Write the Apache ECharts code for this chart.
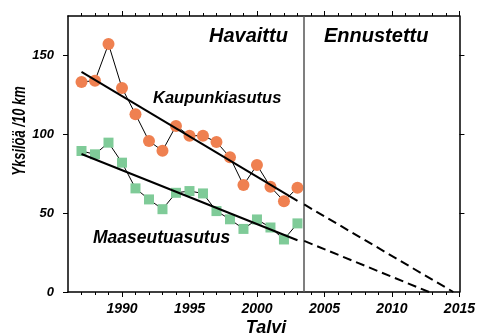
<!DOCTYPE html>
<html><head><meta charset="utf-8">
<script src="https://cdn.jsdelivr.net/npm/echarts@6/dist/echarts.min.js"></script>
<style>html,body{margin:0;padding:0;background:#fff}#c{width:478px;height:336px}</style>
</head><body><div id="c"></div>
<script>
const years = [1987,1988,1989,1990,1991,1992,1993,1994,1995,1996,1997,1998,1999,2000,2001,2002,2003];
const urban = [133.2,134,157.2,129.4,112.7,95.7,89.6,105.3,99.1,99.1,95.1,85.4,67.8,80.5,66.7,57.6,66.1];
const rural = [89.4,87.3,94.7,82,65.7,58.7,52.5,62.9,64,62.5,51.3,46.1,40,46,40.9,33.3,43.5];
const urbanTrend = [[1987,139.6],[2003,57.8]];
const urbanForecast = [[2003.5,55.5],[2014.55,0]];
const ruralTrend = [[1987,87.5],[2003,32.8]];
const ruralForecast = [[2003.5,32.4],[2012.75,0]];
const forecastStart = 2003.5;
const xMin = 1986, xMax = 2015, yMin = 0, yMax = 175;
const xMajorTicks = [1990,1995,2000,2005,2010,2015];
const xMinorTicks = [1987,1988,1989,1991,1992,1993,1994,1996,1997,1998,1999,2001,2002,2003,2004,2006,2007,2008,2009,2011,2012,2013,2014];
const yTicks = [0,50,100,150];
const yRightTicks = [50,100,150];
const txt = {
  observed: 'Havaittu', forecast: 'Ennustettu',
  urban: 'Kaupunkiasutus', rural: 'Maaseutuasutus',
  xName: 'Talvi', yName: 'Yksilöä /10 km'
};

const FF = '"Liberation Sans", Arial, sans-serif';
const font = s => 'italic bold ' + s + 'px ' + FF;
const ORANGE = '#EF8050', GREEN = '#7FCB98';

function xAx(pos, ticks, len, withLabel, withLine) {
  return {
    type: 'value', position: pos, min: xMin, max: xMax,
    splitLine: {show: false},
    axisLine: {show: withLine, onZero: false, lineStyle: {color: '#000', width: 1.5}},
    axisTick: {show: true, customValues: ticks, length: len, inside: false, lineStyle: {color: '#000', width: 1}},
    axisLabel: withLabel ? {show: true, customValues: ticks, margin: 10, color: '#000',
      formatter: v => String(v),
      fontFamily: FF, fontWeight: 'bold', fontStyle: 'italic', fontSize: 14} : {show: false}
  };
}

const chart = echarts.init(document.getElementById('c'), null, {renderer: 'canvas'});
chart.setOption({
  animation: false,
  grid: {left: 68, right: 17, top: 16, bottom: 44, containLabel: false},
  xAxis: [
    xAx('bottom', xMajorTicks, 5, true, true),
    xAx('bottom', xMinorTicks, 3, false, false),
    xAx('top', xMajorTicks, 5, false, true),
    xAx('top', xMinorTicks, 3, false, false)
  ],
  yAxis: [
    {type: 'value', position: 'left', min: yMin, max: yMax,
     splitLine: {show: false},
     axisLine: {show: true, onZero: false, lineStyle: {color: '#000', width: 1.5}},
     axisTick: {show: true, customValues: yTicks, length: 5, lineStyle: {color: '#000'}},
     axisLabel: {show: true, customValues: yTicks, margin: 14, color: '#000',
       formatter: v => String(v),
       fontFamily: FF, fontWeight: 'bold', fontStyle: 'italic', fontSize: 13}},
    {type: 'value', position: 'right', min: yMin, max: yMax,
     splitLine: {show: false},
     axisLine: {show: true, onZero: false, lineStyle: {color: '#000', width: 1.5}},
     axisTick: {show: true, customValues: yRightTicks, length: 5, lineStyle: {color: '#000'}},
     axisLabel: {show: false}}
  ],
  series: [
    {type: 'line', name: 'vline', data: [], xAxisIndex: 0, yAxisIndex: 0,
     markLine: {silent: true, symbol: 'none', label: {show: false},
       lineStyle: {color: '#555', width: 1.5, type: 'solid'},
       data: [{xAxis: forecastStart}]}},
    {type: 'line', name: 'urban', data: years.map((y, i) => [y, urban[i]]),
     symbol: 'circle', symbolSize: 12, itemStyle: {color: ORANGE},
     lineStyle: {color: '#000', width: 1}, z: 3},
    {type: 'line', name: 'rural', data: years.map((y, i) => [y, rural[i]]),
     symbol: 'rect', symbolSize: 10, itemStyle: {color: GREEN},
     lineStyle: {color: '#000', width: 1}, z: 3},
    {type: 'line', data: urbanTrend, symbol: 'none', lineStyle: {color: '#000', width: 2}, z: 5},
    {type: 'line', data: ruralTrend, symbol: 'none', lineStyle: {color: '#000', width: 2}, z: 5},
    {type: 'line', data: urbanForecast, symbol: 'none', lineStyle: {color: '#000', width: 2, type: [9, 5]}, z: 5},
    {type: 'line', data: ruralForecast, symbol: 'none', lineStyle: {color: '#000', width: 2, type: [9, 5]}, z: 5}
  ],
  graphic: [
    {type: 'text', x: 209, y: 36, style: {text: txt.observed, font: font(20), fill: '#000', align: 'left', verticalAlign: 'middle'}},
    {type: 'text', x: 324, y: 36, style: {text: txt.forecast, font: font(20), fill: '#000', align: 'left', verticalAlign: 'middle'}},
    {type: 'text', x: 153, y: 98.5, style: {text: txt.urban, font: font(16.5), fill: '#000', align: 'left', verticalAlign: 'middle'}},
    {type: 'text', x: 93, y: 238, style: {text: txt.rural, font: font(17.5), fill: '#000', align: 'left', verticalAlign: 'middle'}},
    {type: 'text', x: 266, y: 328, style: {text: txt.xName, font: font(18), fill: '#000', align: 'center', verticalAlign: 'middle'}},
    {type: 'text', x: 20, y: 131, rotation: Math.PI / 2, scaleX: 0.72, style: {text: txt.yName, font: font(18), fill: '#000', align: 'center', verticalAlign: 'middle'}}
  ]
});
</script></body></html>
